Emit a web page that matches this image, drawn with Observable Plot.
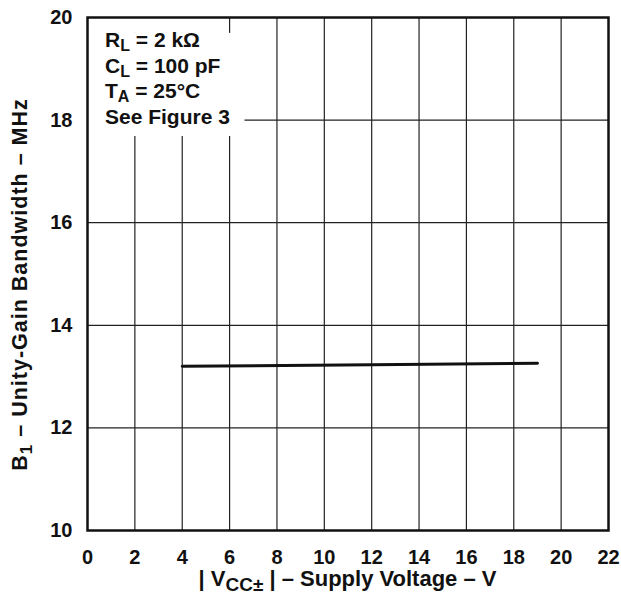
<!DOCTYPE html>
<html>
<head>
<meta charset="utf-8">
<script src="https://cdn.jsdelivr.net/npm/d3@7"></script>
<script src="https://cdn.jsdelivr.net/npm/@observablehq/plot@0.6"></script>
<style>
  html, body { margin: 0; padding: 0; background: #fff; }
  #chart svg { display: block; }
</style>
</head>
<body>
<div id="chart"></div>
<script>
// Unity-gain bandwidth vs. supply voltage (RL = 2 kΩ, CL = 100 pF, TA = 25 °C)
const supplyVoltage = [4, 12, 19];          // |VCC±| in V
const bandwidthMHz = [13.2, 13.23, 13.26];  // B1 in MHz

const xTicks = [0, 2, 4, 6, 8, 10, 12, 14, 16, 18, 20, 22];
const yTicks = [10, 12, 14, 16, 18, 20];

const curve = supplyVoltage.map((v, i) => ({v, b: bandwidthMHz[i]}));

const FONT = "'Liberation Sans', Arial, Helvetica, sans-serif";

const plot = Plot.plot({
  width: 621,
  height: 595,
  marginLeft: 87,
  marginRight: 13,
  marginTop: 17,
  marginBottom: 65,
  style: {fontFamily: FONT, fontSize: "20px", fontWeight: "bold", color: "#111", background: "#fff"},
  x: {domain: [0, 22], ticks: xTicks, tickSize: 0, tickPadding: 19, label: null},
  y: {domain: [10, 20], ticks: yTicks, tickSize: 0, tickPadding: 15, label: null},
  marks: [
    Plot.ruleX(xTicks.slice(1, -1), {stroke: "#222", strokeWidth: 1.2}),
    Plot.ruleY(yTicks.slice(1, -1), {stroke: "#222", strokeWidth: 1.2}),
    // white backing behind the conditions note in the upper-left corner
    Plot.rect([{x1: 0, x2: 6.65, y1: 17.68, y2: 19.69}, {x1: 0, x2: 5.5, y1: 19.69, y2: 20}],
      {x1: "x1", x2: "x2", y1: "y1", y2: "y2", fill: "#fff"}),
    Plot.frame({stroke: "#111", strokeWidth: 2.5}),
    Plot.line(curve, {x: "v", y: "b", stroke: "#111", strokeWidth: 3})
  ]
});

const svg = d3.select(plot);
const xs = plot.scale("x"), ys = plot.scale("y");
const frameLeft = xs.apply(0), frameRight = xs.apply(22);
const frameTop = ys.apply(20), frameBottom = ys.apply(10);

// rich text helper: parts are [text, kind] where kind "sub" lowers and shrinks the run
function rich(sel, parts, subSize, shift = "-25%") {
  parts.forEach(([t, kind]) => {
    const ts = sel.append("tspan").text(t);
    if (kind === "sub") ts.attr("font-size", subSize).attr("baseline-shift", shift);
  });
  return sel;
}

// conditions note
const note = svg.append("g")
  .attr("text-anchor", "start")
  .attr("font-family", FONT).attr("font-weight", "bold").attr("font-size", 21).attr("fill", "#111");
const noteLines = [
  [["R"], ["L", "sub"], [" = 2 kΩ"]],
  [["C"], ["L", "sub"], [" = 100 pF"]],
  [["T"], ["A", "sub"], [" = 25°C"]],
  [["See Figure 3"]]
];
noteLines.forEach((parts, i) => {
  rich(note.append("text").attr("x", frameLeft + 18).attr("y", frameTop + 30 + i * 25.5), parts, 16);
});

// x-axis title
rich(svg.append("text")
  .attr("x", (frameLeft + frameRight) / 2).attr("y", frameBottom + 56)
  .attr("text-anchor", "middle")
  .attr("font-family", FONT).attr("font-weight", "bold").attr("font-size", 22).attr("fill", "#111"),
  [["| V"], ["CC±", "sub"], [" | – Supply Voltage – V"]], 19, "-28%");

// y-axis title
rich(svg.append("text")
  .attr("transform", `translate(27,${(frameTop + frameBottom) / 2 + 11}) rotate(-90)`)
  .attr("text-anchor", "middle")
  .attr("letter-spacing", 1)
  .attr("font-family", FONT).attr("font-weight", "bold").attr("font-size", 21.5).attr("fill", "#111"),
  [["B"], ["1", "sub"], [" – Unity-Gain Bandwidth – MHz"]], 17, "-28%");

document.getElementById("chart").appendChild(plot);
</script>
</body>
</html>
